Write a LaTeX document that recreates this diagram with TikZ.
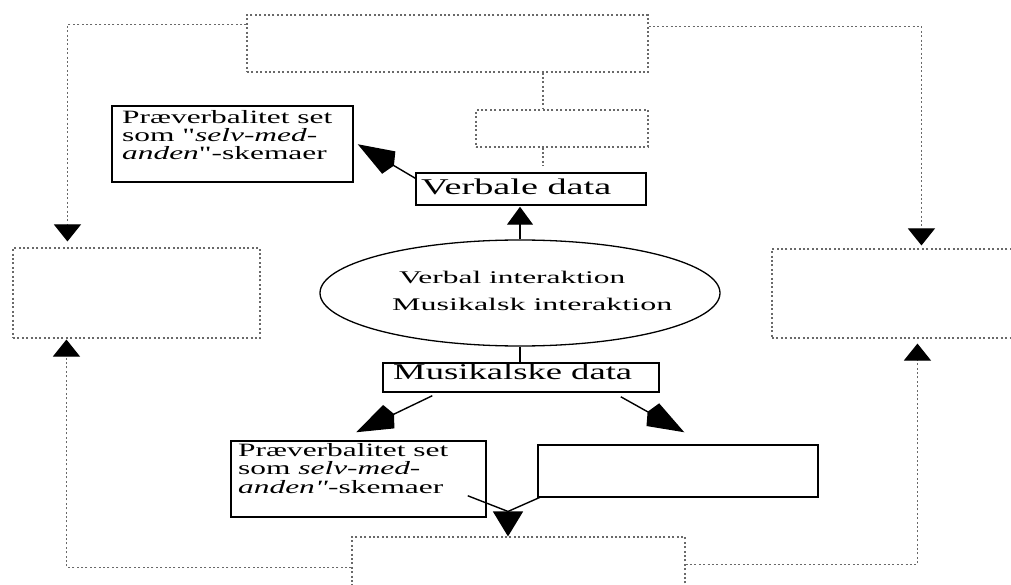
\documentclass[tikz,border=0pt]{standalone}
\usepackage{fontspec}
\setmainfont{Liberation Serif}[Ligatures=TeXOff]
\usetikzlibrary{arrows.meta,shapes.geometric}
\definecolor{dotgray}{RGB}{105,105,105}
% stretch a line of text horizontally to a given width, keeping its height
\newcommand\wideto[2]{\resizebox{#1}{\height}{#2}}

\begin{document}
\begin{tikzpicture}[x=1pt,y=-1pt,
  solidbox/.style={draw, line width=1.5pt, inner sep=0pt},
  dotbox/.style={draw=dotgray, line width=1.1pt, dash pattern=on 2pt off 2.4pt, inner sep=0pt},
  dline/.style={draw=dotgray, line width=1.1pt, dash pattern=on 2pt off 2.4pt},
  dtip/.style={-{Triangle[width=27pt,length=17pt,color=black,fill=black]}},
  link/.style={draw, line width=1.4pt},
  bigtip/.style={-{Kite[length=42pt,width=26pt,inset=6pt]}},
  uptip/.style={-{Triangle[width=26pt,length=18pt]}},
  mergetip/.style={-{Triangle[width=30pt,length=25pt]}},
  txt/.style={inner sep=0pt, anchor=base west},
]
\clip (0,0) rectangle (1011,585);
\fill[white] (0,0) rectangle (1011,585);

% dotted frames
\node[dotbox, minimum width=401pt, minimum height=57pt] (T) at (447.5,43.5) {};
\node[dotbox, minimum width=172pt, minimum height=37pt] (S) at (562,128.5) {};
\node[dotbox, minimum width=247pt, minimum height=90pt] (L) at (136.5,293) {};
\node[dotbox, minimum width=258pt, minimum height=89pt] (RB) at (901,293.5) {};
\node[dotbox, minimum width=333pt, minimum height=83pt] (B) at (518.5,578.5) {};

% solid boxes and the ellipse
\node[solidbox, minimum width=230pt, minimum height=32pt] (V) at (531,189) {};
\node[solidbox, minimum width=241pt, minimum height=76pt] (P1) at (232.5,144) {};
\node[draw, ellipse, line width=1.3pt, minimum width=400pt, minimum height=106pt, inner sep=0pt] (E) at (520,293) {};
\node[solidbox, minimum width=276pt, minimum height=29pt] (M) at (521,377.5) {};
\node[solidbox, minimum width=255pt, minimum height=76pt] (P2) at (358.5,479) {};
\node[solidbox, minimum width=280pt, minimum height=52pt] (R) at (678,471) {};

% texts
\node[txt] (Vtext) at (421,195) {\fontsize{22.5}{24}\selectfont\wideto{190pt}{Verbale data}};
\node[txt] (Mtext) at (393,379) {\fontsize{22.5}{24}\selectfont\wideto{239pt}{Musikalske data}};
\node[txt] (Etext1) at (399,283.3) {\fontsize{17.8}{20}\selectfont\wideto{226pt}{Verbal interaktion}};
\node[txt] (Etext2) at (392,310) {\fontsize{17.8}{20}\selectfont\wideto{280pt}{Musikalsk interaktion}};
\node[txt] (P1text) at (122,123.3) {\fontsize{18.8}{17.2}\selectfont\scalebox{1.67}[1]{\begin{tabular}[t]{@{}l@{}}Præverbalitet set\\ som "\textit{selv-med-}\\ \textit{anden}"-skemaer\end{tabular}}};
\node[txt] (P2text) at (238,456.7) {\fontsize{18.8}{17.2}\selectfont\scalebox{1.67}[1]{\begin{tabular}[t]{@{}l@{}}Præverbalitet set\\ som \textit{selv-med-}\\ \textit{anden"}-skemaer\end{tabular}}};

% dotted connectors
\draw[dline, dtip, shorten >=6pt] ([yshift=-10pt]T.north west) -| ([xshift=55pt]L.north west);
\draw[dline, dtip, shorten >=3pt] ([yshift=-12pt]T.north east) -| ([xshift=150pt]RB.north west);
\draw[dline] ([xshift=95.5pt]T.south) -- ([xshift=-19pt]S.north);
\draw[dline, shorten >=7pt] ([xshift=-19pt]S.south) -- ([xshift=12pt]V.north);
\draw[dline, dtip, shorten >=1pt] ([yshift=-31pt]B.north west) -| ([xshift=54pt]L.south west);
\draw[dline, dtip, shorten >=5pt] ([yshift=-28pt]B.north east) -| ([xshift=146pt]RB.south west);

% solid connectors
\draw[link, bigtip] ([yshift=-6pt]V.north west) -- ([xshift=4pt,yshift=-39pt]P1.north east);
\draw[link, uptip, shorten >=1pt] (E.north) -- (V.south -| E.north);
\draw[link] (E.south) -- (E.south |- M.north);
\draw[link, bigtip] ([xshift=50pt,yshift=-3pt]M.south west) -- ([xshift=126pt,yshift=8pt]P2.north west);
\draw[link, bigtip] ([xshift=-39pt,yshift=-4pt]M.south east) -- ([xshift=147pt,yshift=12pt]R.north west);

\coordinate (m) at ([xshift=-10.5pt,yshift=25pt]B.north);
\draw[link] ([xshift=-19pt,yshift=22pt]P2.south east) -- (m);
\draw[link] ([xshift=4pt,yshift=1pt]R.south west) -- (m);
\draw[link, mergetip] (m) -- (B.north -| m);
\end{tikzpicture}
\end{document}
